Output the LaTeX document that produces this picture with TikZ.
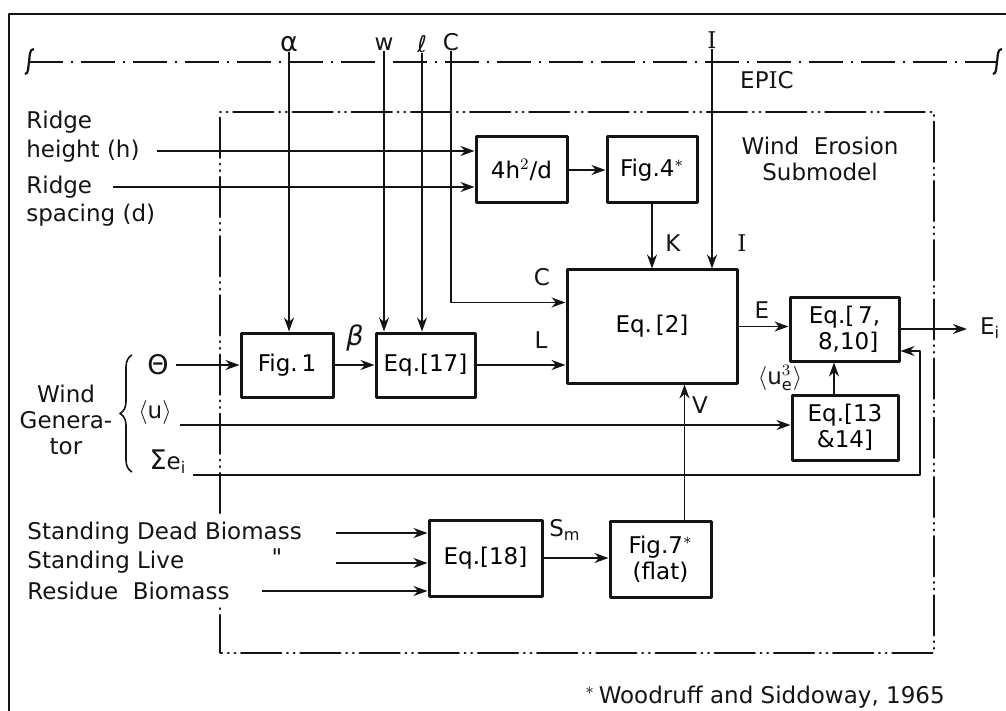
\documentclass[tikz,border=0pt]{standalone}
\usepackage{fontspec}
\setmainfont{DejaVu Sans}
\newfontfamily\serifI{DejaVu Serif}
\usetikzlibrary{arrows.meta,decorations.pathreplacing}
\definecolor{epink}{RGB}{20,20,20}
\newcommand{\epicfont}{\fontsize{11.5}{12.8}\selectfont}
\newcommand{\greekfont}{\fontsize{13.5}{14}\selectfont}
\newcommand{\sI}{{\serifI I}}
\tikzset{
  blk/.style={
    draw=epink, line width=1.5pt, align=center, inner sep=1pt,
    font=\epicfont
  },
  lbl/.style={font=\epicfont, text=epink, inner sep=0pt},
  glbl/.style={lbl, font=\greekfont},
  arr/.style={-{Stealth[length=7pt,width=5pt]}, draw=epink, line width=0.9pt},
  frame/.style={draw=epink, line width=1pt},
  curl/.style={draw=epink, line width=1.1pt},
  epicline/.style={draw=epink, line width=1.1pt,
    dash pattern=on 17pt off 4pt on 1pt off 4pt},
  subline/.style={draw=epink, line width=1.3pt, line cap=round,
    dash pattern=on 20pt off 3pt on 0.3pt off 3pt on 0.3pt off 3pt},
  brc/.style={draw=epink, line width=0.8pt, decorate,
    decoration={brace, amplitude=6pt}},
  every picture/.append style={line join=round}
}
\begin{document}
\begin{tikzpicture}[x=0.5pt,y=-0.5pt]
  \useasboundingbox (0,0) rectangle (1006,711);
  \draw[frame] (9,711) -- (9,14) -- (1006,14);
  % EPIC level
  \draw[epicline] (29,62) -- (997,62);
  \draw[curl] (25,74) .. controls (29,74) and (28,66) .. (29,62)
    .. controls (30,56) and (29,49) .. (34,49);
  \draw[curl] (993,74) .. controls (997,74) and (996,66) .. (997,62)
    .. controls (998,56) and (997,49) .. (1002,49);
  \node[lbl] (epic) at (767,80) {EP\sI C};
  % submodel border, open where the biomass labels cross it
  \draw[subline] (220,513) -- (220,112) -- (934,112) -- (934,653) -- (220,653) -- (220,605);
  \node[lbl, align=center] (wes) at (820,159) {Wind\ \ Erosion\\Submodel};

  % blocks
  \node[blk, minimum width=45.5pt, minimum height=33pt] (hd) at (521.5,170) {4h$^2$/d};
  \node[blk, minimum width=45pt, minimum height=33pt] (fig4) at (652,170) {Fig.4$^{*}$};
  \node[blk, minimum width=85pt, minimum height=56.5pt] (eq2) at (652,326.5) {Eq.\,[2]};
  \node[blk, minimum width=46pt, minimum height=32pt] (fig1) at (287,365) {Fig.\,1};
  \node[blk, minimum width=49.5pt, minimum height=32pt] (eq17) at (425.5,365) {Eq.[17]};
  \node[blk, minimum width=54.5pt, minimum height=32pt] (eq7) at (844.5,329) {Eq.[\,7,\\\ 8,10]};
  \node[blk, minimum width=53pt, minimum height=32.5pt] (eq13) at (845,427.5) {Eq.[13\\\&14]};
  \node[blk, minimum width=56.5pt, minimum height=38pt] (eq18) at (485.5,558) {Eq.[18]};
  \node[blk, minimum width=50.5pt, minimum height=38pt] (fig7) at (660.5,559) {Fig.7$^{*}$\\(flat)};

  % inputs from EPIC
  \node[glbl] (alpha) at (289,44) {α};
  \node[lbl] (win) at (384,44) {w};
  \node[lbl] (ell) at (422,44) {ℓ};
  \node[lbl] (cin) at (451,42) {C};
  \node[lbl] (iin) at (712,40) {\sI};
  \draw[arr] (alpha.south) -- (alpha.south |- fig1.north);
  \draw[arr] (win.south) -- (win.south |- eq17.north);
  \draw[arr] (ell.south) -- (ell.south |- eq17.north);
  \draw[arr] (cin.south) |- ([yshift=12pt]eq2.west);
  \draw[arr] (iin.south) -- (iin.south |- eq2.north);

  % ridge inputs
  \node[lbl, anchor=west] (rh1) at (26,122) {Ridge};
  \node[lbl, anchor=west] (rh2) at (26,151) {height (h)};
  \node[lbl, anchor=west] (rs1) at (26,187) {Ridge};
  \node[lbl, anchor=west] (rs2) at (26,215) {spacing (d)};
  \coordinate (rhin) at (157,151);
  \coordinate (rsin) at (113,187);
  \draw[arr] (rhin) -- (rhin -| hd.west);
  \draw[arr] (rsin) -- (rsin -| hd.west);
  \draw[arr] (hd.east) -- (fig4.west);
  \draw[arr] (fig4.south) -- (fig4.south |- eq2.north);

  % wind generator
  \node[lbl, align=center] (wg) at (66,420) {Wind\\Genera-\\tor};
  \draw[brc] (132,472) -- (132,355);
  \node[glbl] (theta) at (158,365) {Θ};
  \node[lbl] (uavg) at (155,412) {$\langle$u$\rangle$};
  \node[lbl] (sume) at (168,462) {{\greekfont Σ}e$_{\mathrm{i}}$};
  \coordinate (thin) at (176,365);
  \coordinate (uin) at (180,425);
  \coordinate (sein) at (193,475);
  \coordinate (seturn) at (920,475);
  \draw[arr] (thin) -- (fig1.west);
  \draw[arr] (fig1.east) -- (eq17.west);
  \draw[arr] (eq17.east) -- (eq17.east -| eq2.west);
  \draw[arr] (uin) -- (uin -| eq13.west);
  \draw[arr] (sein) -- (seturn) |- ([yshift=-11pt]eq7.east);
  \draw[arr] ([xshift=-5.5pt]eq13.north) -- ([xshift=-5.5pt]eq13.north |- eq7.south);
  \draw[arr] (eq2.east) -- (eq2.east -| eq7.west);
  \coordinate (eout) at (967,329);
  \draw[arr] (eq7.east) -- (eout);

  % biomass inputs
  \node[lbl, anchor=west] (sdb) at (27,533) {Standing Dead Biomass};
  \node[lbl, anchor=west] (slb) at (27,562) {Standing Live};
  \node[lbl] (ditto) at (277,557) {\textquotedbl};
  \node[lbl, anchor=west] (rb) at (27,591) {Residue\ \ Biomass};
  \coordinate (sdbin) at (336,533);
  \coordinate (slbin) at (336,563);
  \coordinate (rbin) at (262,591);
  \draw[arr] (sdbin) -- (sdbin -| eq18.west);
  \draw[arr] (slbin) -- (slbin -| eq18.west);
  \draw[arr] (rbin) -- (rbin -| eq18.west);
  \draw[arr] (eq18.east) -- (eq18.east -| fig7.west);
  \draw[arr] ([xshift=12pt]fig7.north) -- ([xshift=12pt]fig7.north |- eq2.south);

  % flow labels
  \node[glbl] (beta) at (355,338) {\itshape β};
  \node[lbl] (clbl) at (542,277) {C};
  \node[lbl] (llbl) at (541,340) {L};
  \node[lbl] (klbl) at (673,243) {K};
  \node[lbl] (ilbl) at (742,243) {\sI};
  \node[lbl] (elbl) at (762,310) {E};
  \node[lbl] (eilbl) at (990,328) {E$_{\mathrm{i}}$};
  \node[lbl] (uelbl) at (780,378) {$\langle$u$^{3}_{\mathrm{e}}\rangle$};
  \node[lbl] (vlbl) at (700,405) {V};
  \node[lbl] (smlbl) at (565,530) {S$_{\mathrm{m}}$};

  % footnote
  \node[lbl] (fn) at (765,697) {$^{*}$\,Woodruff and Siddoway, 1965};
\end{tikzpicture}
\end{document}
